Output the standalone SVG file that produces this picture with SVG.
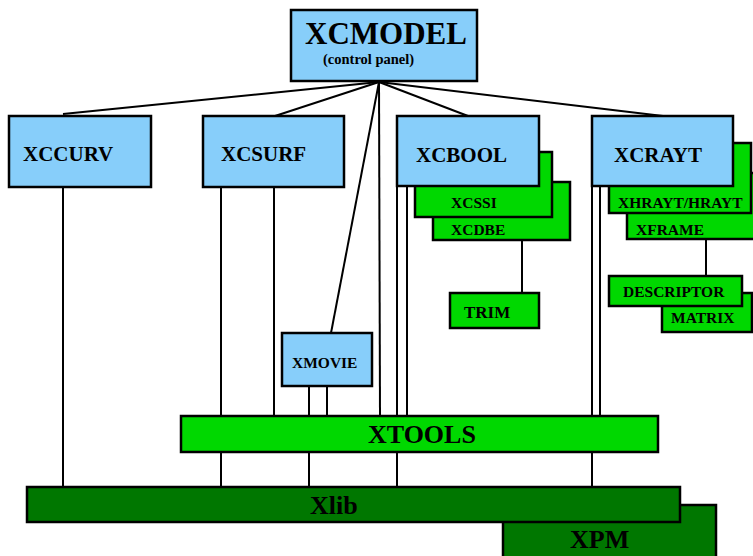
<svg xmlns="http://www.w3.org/2000/svg" width="753" height="556" viewBox="0 0 753 556">
<style>
.b{fill:#87CEFA;stroke:#000;stroke-width:2.5}
.g{fill:#00D800;stroke:#000;stroke-width:2.5}
.d{fill:#007700;stroke:#000;stroke-width:2.5}
.t{font-family:"Liberation Serif","Times New Roman",serif;font-weight:bold;fill:#000}
#connectors line{stroke:#000;stroke-width:2}
</style>
<rect width="753" height="556" fill="#fff"/>
<g id="connectors">
<line x1="379" y1="82" x2="63" y2="114"/>
<line x1="379" y1="82" x2="275" y2="116"/>
<line x1="379" y1="82" x2="331" y2="333"/>
<line x1="379" y1="82" x2="380" y2="416"/>
<line x1="379" y1="82" x2="468" y2="116"/>
<line x1="379" y1="82" x2="663" y2="116"/>
<line x1="63" y1="187" x2="63" y2="488"/>
<line x1="221" y1="187" x2="221" y2="488"/>
<line x1="274" y1="187" x2="274" y2="416"/>
<line x1="309" y1="386" x2="309" y2="488"/>
<line x1="327" y1="386" x2="327" y2="416"/>
<line x1="397" y1="186" x2="397" y2="488"/>
<line x1="407" y1="186" x2="407" y2="416"/>
<line x1="592" y1="186" x2="592" y2="488"/>
<line x1="600" y1="186" x2="600" y2="416"/>
<line x1="522" y1="240" x2="522" y2="293"/>
<line x1="706" y1="239" x2="706" y2="276"/>
</g>
<g id="xcmodel">
<rect class="b" x="291" y="10" width="186" height="71"/>
<text class="t" x="305" y="44" font-size="31">XCMODEL</text>
<text class="t" x="323" y="64" font-size="14.5">(control panel)</text>
</g>
<g id="xccurv">
<rect class="b" x="9" y="116" width="142" height="71"/>
<text class="t" x="23" y="161" font-size="21">XCCURV</text>
</g>
<g id="xcsurf">
<rect class="b" x="203" y="116" width="141" height="71"/>
<text class="t" x="221" y="161" font-size="21">XCSURF</text>
</g>
<g id="xcdbe">
<rect class="g" x="433" y="182" width="137" height="58"/>
<text class="t" x="451" y="235" font-size="15.5">XCDBE</text>
</g>
<g id="xcssi">
<rect class="g" x="415" y="152" width="137" height="65"/>
<text class="t" x="451" y="208" font-size="15.5">XCSSI</text>
</g>
<g id="xcbool">
<rect class="b" x="397" y="116" width="142" height="70"/>
<text class="t" x="416" y="162" font-size="21">XCBOOL</text>
</g>
<g id="trim">
<rect class="g" x="450" y="293" width="89" height="35"/>
<text class="t" x="464" y="318" font-size="17">TRIM</text>
</g>
<g id="xframe">
<rect class="g" x="627" y="173" width="140" height="66"/>
<text class="t" x="636" y="235" font-size="15.5">XFRAME</text>
</g>
<g id="xhrayt">
<rect class="g" x="609" y="143" width="142" height="70"/>
<text class="t" x="618" y="208" font-size="15.5">XHRAYT/HRAYT</text>
</g>
<g id="xcrayt">
<rect class="b" x="592" y="116" width="141" height="70"/>
<text class="t" x="614" y="162" font-size="21">XCRAYT</text>
</g>
<g id="matrix">
<rect class="g" x="662" y="293" width="90" height="39"/>
<text class="t" x="671" y="323" font-size="15.5">MATRIX</text>
</g>
<g id="descriptor">
<rect class="g" x="609" y="276" width="133" height="30"/>
<text class="t" x="623" y="297" font-size="15.5">DESCRIPTOR</text>
</g>
<g id="xmovie">
<rect class="b" x="282" y="333" width="90" height="53"/>
<text class="t" x="292" y="368" font-size="15.5">XMOVIE</text>
</g>
<g id="xtools">
<rect class="g" x="181" y="416" width="477" height="36"/>
<text class="t" x="368" y="443" font-size="26">XTOOLS</text>
</g>
<g id="xpm">
<rect class="d" x="503" y="505" width="213" height="60"/>
<text class="t" x="570" y="548" font-size="26">XPM</text>
</g>
<g id="xlib">
<rect class="d" x="27" y="487" width="653" height="35"/>
<text class="t" x="310" y="514" font-size="26">Xlib</text>
</g>
</svg>
